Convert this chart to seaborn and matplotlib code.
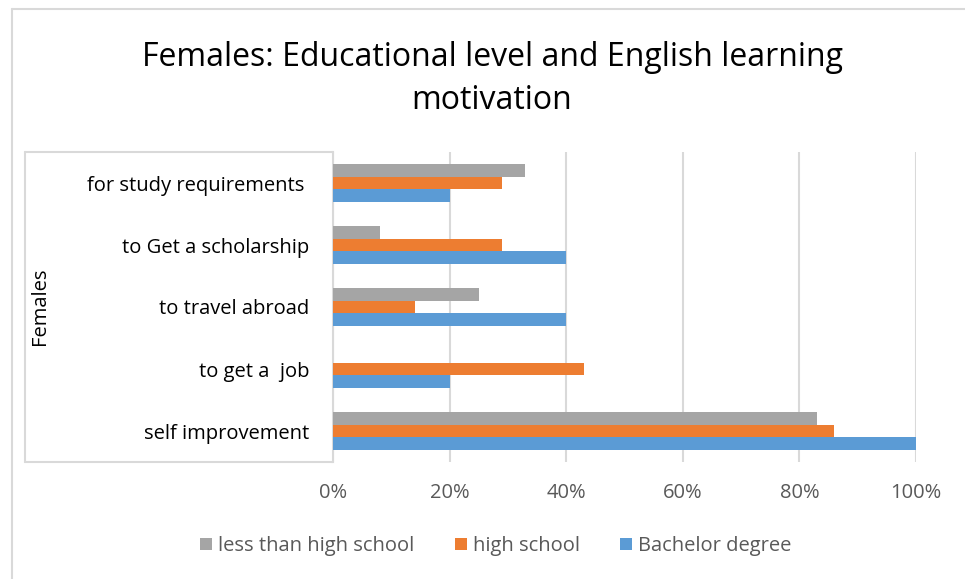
import pandas as pd
import matplotlib.pyplot as plt
import seaborn as sns
from matplotlib.lines import Line2D
from matplotlib.patches import Patch

# data (percent)
reasons = ["for study requirements ", "to Get a scholarship", "to travel abroad",
           "to get a  job", "self improvement"]
levels = ["less than high school", "high school", "Bachelor degree"]
less_than_hs = [33, 8, 25, 0, 83]
high_school = [29, 29, 14, 43, 86]
bachelor = [20, 40, 40, 20, 100]
xticks = [0, 20, 40, 60, 80, 100]
colors = ["#A5A5A5", "#ED7D31", "#5B9BD5"]

df = pd.DataFrame({
    "reason": reasons * 3,
    "level": [levels[0]] * 5 + [levels[1]] * 5 + [levels[2]] * 5,
    "value": less_than_hs + high_school + bachelor,
})

sns.set_style("white")
plt.rcParams["font.family"] = ["Open Sans", "DejaVu Sans"]

W, H = 965, 579
fig = plt.figure(figsize=(W / 100, H / 100), dpi=100)
ax = fig.add_axes([333 / W, 1 - 462 / H, (916 - 333) / W, (462 - 152) / H])

sns.barplot(data=df, y="reason", x="value", hue="level", hue_order=levels,
            order=reasons, palette=colors, width=0.62, gap=0, orient="h",
            linewidth=0, saturation=1, ax=ax, zorder=3)
ax.legend_.remove()

ax.set_xlim(0, 100)
ax.set_ylim(4.5, -0.5)
ax.set_xticks(xticks)
ax.set_xticklabels([f"{t}%" for t in xticks])
ax.set_xlabel("")
ax.set_ylabel("")
ax.grid(axis="x", color="#d9d9d9", linewidth=1.5, zorder=0)
ax.grid(axis="y", visible=False)
for s in ["top", "right", "bottom"]:
    ax.spines[s].set_visible(False)
ax.spines["left"].set_color("#d9d9d9")
ax.spines["left"].set_linewidth(1.5)
ax.tick_params(axis="x", length=0, pad=15, labelsize=14.5, labelcolor="#595959")
ax.tick_params(axis="y", length=0, pad=17, labelsize=14.5, labelcolor="#000000")

# multi-level category box around labels
lc = "#d9d9d9"
for xs, ys in [([25, 333], [152, 152]), ([25, 333], [462, 462]), ([25, 25], [152, 462])]:
    fig.add_artist(Line2D([x / W for x in xs], [1 - y / H for y in ys],
                          color=lc, linewidth=1.5, transform=fig.transFigure))
# chart outer border (left and top)
fig.add_artist(Line2D([11.5 / W, 11.5 / W], [0, 1 - 8.5 / H], color=lc,
                      linewidth=1.5, transform=fig.transFigure))
fig.add_artist(Line2D([11.5 / W, 1], [1 - 8.5 / H, 1 - 8.5 / H], color=lc,
                      linewidth=1.5, transform=fig.transFigure))

fig.text(40 / W, 1 - 306 / H, "Females", rotation=90, ha="center", va="center",
         fontsize=14.5, color="#000000")

fig.text(492 / W, 1 - 79 / H, "Females: Educational level and English learning\nmotivation",
         ha="center", va="center", fontsize=23, color="#000000", linespacing=1.38)

handles = [Patch(facecolor=c, edgecolor="none") for c in colors]
fig.legend(handles, levels, loc="center", bbox_to_anchor=(496 / W, 1 - 546 / H),
           ncol=3, frameon=False, fontsize=14.5, labelcolor="#595959",
           handlelength=0.6, handleheight=0.6, handletextpad=0.3, columnspacing=2.0)

fig.savefig("out.png", dpi=100)
